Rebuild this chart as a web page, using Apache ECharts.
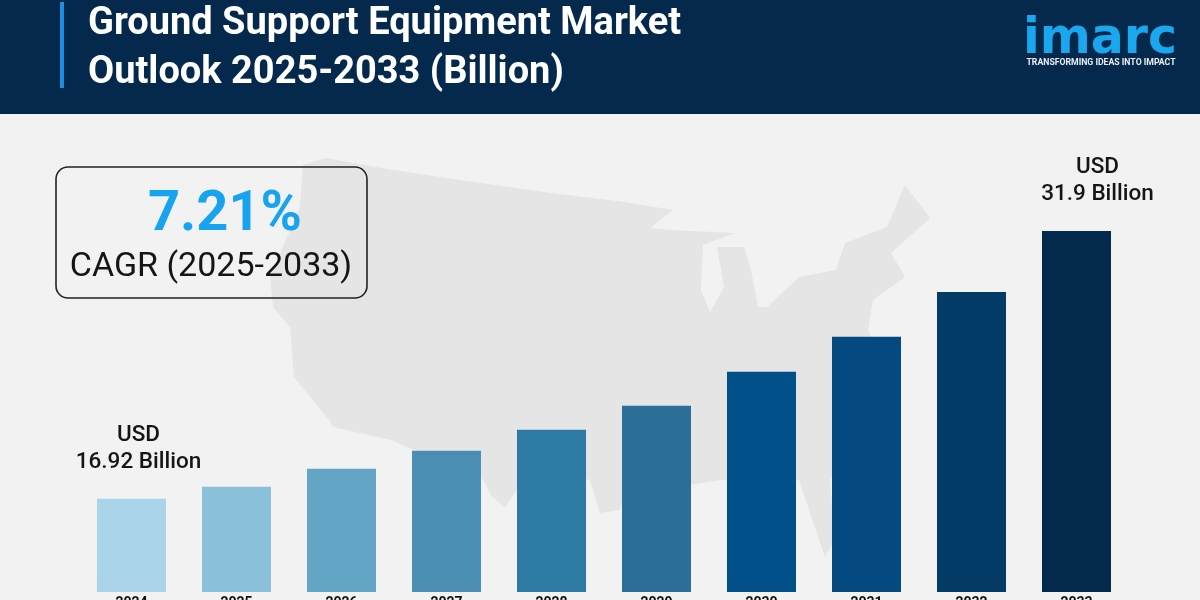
<!DOCTYPE html>
<html>
<head>
    <meta charset="utf-8">
    <title>Ground Support Equipment Market</title>
    <script src="https://cdn.jsdelivr.net/npm/echarts@6/dist/echarts.min.js"></script>
    <style>
        html, body { margin: 0; padding: 0; background: #f2f2f3; }
        #chart { width: 1200px; height: 600px; }
    </style>
</head>
<body>
    <div id="chart"></div>
    <script>
        var years = ['2024', '2025', '2026', '2027', '2028', '2029', '2030', '2031', '2032', '2033'];
        var marketSize = [16.92, 17.59, 18.6, 19.6, 20.78, 22.12, 24.02, 25.98, 28.49, 31.9];
        var barColors = ['#a9d4e9', '#8bc0da', '#63a5c4', '#4a8fb3', '#2d7ba5', '#2b6e98', '#02508a', '#044a80', '#043a66', '#032a4d'];
        var titleLines = ['Ground Support Equipment Market', 'Outlook 2025-2033 (Billion)'];
        var cagrValue = '7.21%';
        var cagrLabel = 'CAGR (2025-2033)';

        // background silhouette, decoration only
        var mapOutline = [[303, 165], [326, 158], [381, 168], [460, 180], [551, 193], [625, 202], [673, 210], [650, 228], [671, 230], [735, 233],
            [703, 245], [701, 290], [710, 312], [724, 287], [717, 247], [744, 247], [751, 270], [758, 307], [767, 307], [799, 277], [836, 270],
            [845, 243], [887, 227], [905, 185], [930, 218], [891, 253], [905, 277], [873, 300], [868, 330], [885, 370], [868, 420], [830, 480],
            [835, 540], [825, 557], [799, 480], [720, 480], [690, 485], [625, 490], [620, 510], [600, 513], [590, 480], [525, 465], [517, 490],
            [505, 507], [492, 497], [478, 470], [414, 450], [391, 440], [333, 427], [329, 420], [294, 377], [290, 327], [273, 307], [270, 277], [300, 207]];

        var font = 'Roboto';
        var chart = echarts.init(document.getElementById('chart'));

        function usdLabel(offset) {
            return {
                show: true,
                position: 'top',
                distance: 23,
                offset: offset,
                color: '#151515',
                fontFamily: font,
                fontSize: 22.5,
                fontWeight: 500,
                lineHeight: 27,
                formatter: function (p) { return 'USD\n' + p.value + ' Billion'; }
            };
        }

        var seriesData = marketSize.map(function (v, i) {
            var item = { value: v, itemStyle: { color: barColors[i] } };
            if (i === 0) item.label = usdLabel([7, 0]);
            if (i === marketSize.length - 1) item.label = usdLabel([21, 0]);
            return item;
        });

        var option = {
            backgroundColor: '#f2f2f3',
            animation: false,
            // the year labels run off the bottom edge in the reference
            grid: { left: 79, right: 71, top: 231, bottom: 8, outerBoundsMode: 'none' },
            xAxis: {
                type: 'category',
                data: years,
                axisLine: { show: false },
                axisTick: { show: false },
                axisLabel: { color: '#111', fontFamily: font, fontSize: 14, fontWeight: 700, margin: 4 }
            },
            yAxis: { type: 'value', min: 11.7, max: 31.9, show: false, splitLine: { show: false } },
            series: [{
                type: 'bar',
                barWidth: 69,
                data: seriesData
            }],
            graphic: [
                { type: 'polygon', z: 0, shape: { points: mapOutline }, style: { fill: '#e5e5e6' } },
                { type: 'rect', z: 1, shape: { x: 0, y: 0, width: 1200, height: 114 }, style: { fill: '#04294d' } },
                { type: 'rect', z: 3, shape: { x: 60, y: 2, width: 4, height: 86 }, style: { fill: '#1d8fe0' } },
                { type: 'text', z: 3, x: 88, y: 24, style: { text: titleLines[0], fill: '#fff', font: '700 38px Roboto', textVerticalAlign: 'middle' } },
                { type: 'text', z: 3, x: 88, y: 73, style: { text: titleLines[1], fill: '#fff', font: '700 38px Roboto', textVerticalAlign: 'middle' } },
                // logo
                { type: 'text', z: 3, x: 1100, y: 40, style: { text: 'imarc', fill: '#1aa7ee', font: '700 49px "DejaVu Sans"', textAlign: 'center', textVerticalAlign: 'middle' } },
                { type: 'text', z: 3, x: 1101, y: 63, style: { text: 'TRANSFORMING IDEAS INTO IMPACT', fill: '#e8eef4', font: '700 8.7px Roboto', textAlign: 'center', textVerticalAlign: 'middle' } },
                // CAGR box
                { type: 'rect', z: 3, shape: { x: 56, y: 167, width: 311, height: 131, r: 12 }, style: { fill: 'rgba(0,0,0,0)', stroke: '#222', lineWidth: 1.6 } },
                { type: 'text', z: 3, x: 225, y: 216, style: { text: cagrValue, fill: '#17a3f0', font: '700 56px Roboto', textAlign: 'center', textVerticalAlign: 'middle' } },
                { type: 'text', z: 3, x: 211, y: 267, style: { text: cagrLabel, fill: '#151515', font: '400 34px Roboto', textAlign: 'center', textVerticalAlign: 'middle' } }
            ]
        };
        chart.setOption(option);
    </script>
</body>
</html>
